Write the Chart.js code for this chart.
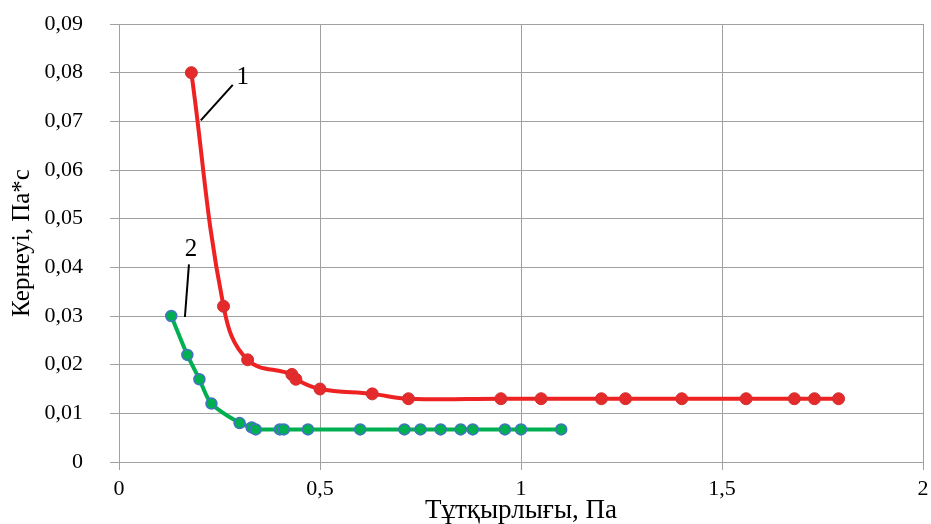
<!DOCTYPE html>
<html>
<head>
<meta charset="utf-8">
<script src="https://cdn.jsdelivr.net/npm/chart.js@4/dist/chart.umd.min.js"></script>
<style>
html,body{margin:0;padding:0;background:#fff;}
#wrap{width:931px;height:524px;}
</style>
</head>
<body>
<div id="wrap"><canvas id="c" width="931" height="524"></canvas></div>
<script>
// Series 1 (red)
const series1X = [0.18, 0.26, 0.32, 0.43, 0.44, 0.50, 0.63, 0.72, 0.95, 1.05, 1.20, 1.26, 1.40, 1.56, 1.68, 1.73, 1.79];
const series1Y = [0.080, 0.032, 0.021, 0.018, 0.017, 0.015, 0.014, 0.013, 0.013, 0.013, 0.013, 0.013, 0.013, 0.013, 0.013, 0.013, 0.013];
// Series 2 (green)
const series2X = [0.13, 0.17, 0.20, 0.23, 0.30, 0.33, 0.34, 0.40, 0.41, 0.47, 0.60, 0.71, 0.75, 0.80, 0.85, 0.88, 0.96, 1.00, 1.10];
const series2Y = [0.030, 0.022, 0.017, 0.012, 0.008, 0.0071, 0.0067, 0.0067, 0.0067, 0.0067, 0.0067, 0.0067, 0.0067, 0.0067, 0.0067, 0.0067, 0.0067, 0.0067, 0.0067];
// Curve labels and leader lines (data coordinates)
const curveLabels = ["1", "2"];
const labelPos = [[0.308, 0.0791], [0.179, 0.0436]];
const leaderFrom = [[0.2035, 0.0702], [0.164, 0.0298]];
const leaderTo = [[0.283, 0.0775], [0.174, 0.0406]];
// Axis settings
const xTitle = "Тұтқырлығы, Па";
const yTitle = "Кернеуі, Па*с";

const toPts = (xs, ys) => xs.map((x, i) => ({x: x, y: ys[i]}));
const fmt = v => String(Number(v.toFixed(3))).replace('.', ',');

const annot = {
  id: 'annot',
  afterDatasetsDraw(chart) {
    const ctx = chart.ctx, xs = chart.scales.x, ys = chart.scales.y;
    ctx.save();
    ctx.strokeStyle = '#000';
    ctx.lineWidth = 2;
    for (let i = 0; i < curveLabels.length; i++) {
      ctx.beginPath();
      ctx.moveTo(xs.getPixelForValue(leaderFrom[i][0]), ys.getPixelForValue(leaderFrom[i][1]));
      ctx.lineTo(xs.getPixelForValue(leaderTo[i][0]), ys.getPixelForValue(leaderTo[i][1]));
      ctx.stroke();
    }
    ctx.fillStyle = '#000';
    ctx.font = '25px "Liberation Serif"';
    ctx.textAlign = 'center';
    ctx.textBaseline = 'middle';
    for (let i = 0; i < curveLabels.length; i++) {
      ctx.fillText(curveLabels[i], xs.getPixelForValue(labelPos[i][0]), ys.getPixelForValue(labelPos[i][1]));
    }
    ctx.restore();
  }
};

new Chart(document.getElementById('c'), {
  type: 'scatter',
  data: {
    datasets: [
      {
        data: toPts(series2X, series2Y),
        showLine: true,
        borderColor: '#00b050',
        borderWidth: 4,
        tension: 0.3,
        pointRadius: 5.5,
        pointBackgroundColor: '#00b050',
        pointBorderColor: '#4472c4',
        pointBorderWidth: 1.5
      },
      {
        data: toPts(series1X, series1Y),
        showLine: true,
        borderColor: '#ee2222',
        borderWidth: 4,
        tension: 0.4,
        pointRadius: 6,
        pointBackgroundColor: '#e42a2a',
        pointBorderColor: '#d03030',
        pointBorderWidth: 1
      }
    ]
  },
  options: {
    responsive: false,
    animation: false,
    layout: {padding: {top: 24, right: 8, bottom: 0, left: 0}},
    plugins: {legend: {display: false}, tooltip: {enabled: false}},
    scales: {
      x: {
        type: 'linear', min: 0, max: 2,
        ticks: {stepSize: 0.5, color: '#000', font: {family: 'Liberation Serif', size: 22}, padding: 6, callback: v => fmt(v)},
        grid: {color: '#a0a0a0', lineWidth: 1, tickLength: 8},
        border: {color: '#a0a0a0'},
        title: {display: true, text: xTitle, color: '#000', font: {family: 'Liberation Serif', size: 27, lineHeight: 1}, padding: 0},
        afterFit: s => { s.height = 62; s.paddingRight = 8; }
      },
      y: {
        type: 'linear', min: 0, max: 0.09,
        ticks: {stepSize: 0.01, color: '#000', font: {family: 'Liberation Serif', size: 22}, padding: 27, callback: v => fmt(v)},
        grid: {color: '#a0a0a0', lineWidth: 1, tickLength: 9},
        border: {color: '#a0a0a0'},
        title: {display: true, text: yTitle, color: '#000', font: {family: 'Liberation Serif', size: 25, lineHeight: 1}, padding: {top: 10, bottom: 0}},
        afterFit: s => { s.width = 119; s.paddingTop = 14; s.paddingBottom = 14; }
      }
    }
  },
  plugins: [annot]
});
</script>
</body>
</html>
